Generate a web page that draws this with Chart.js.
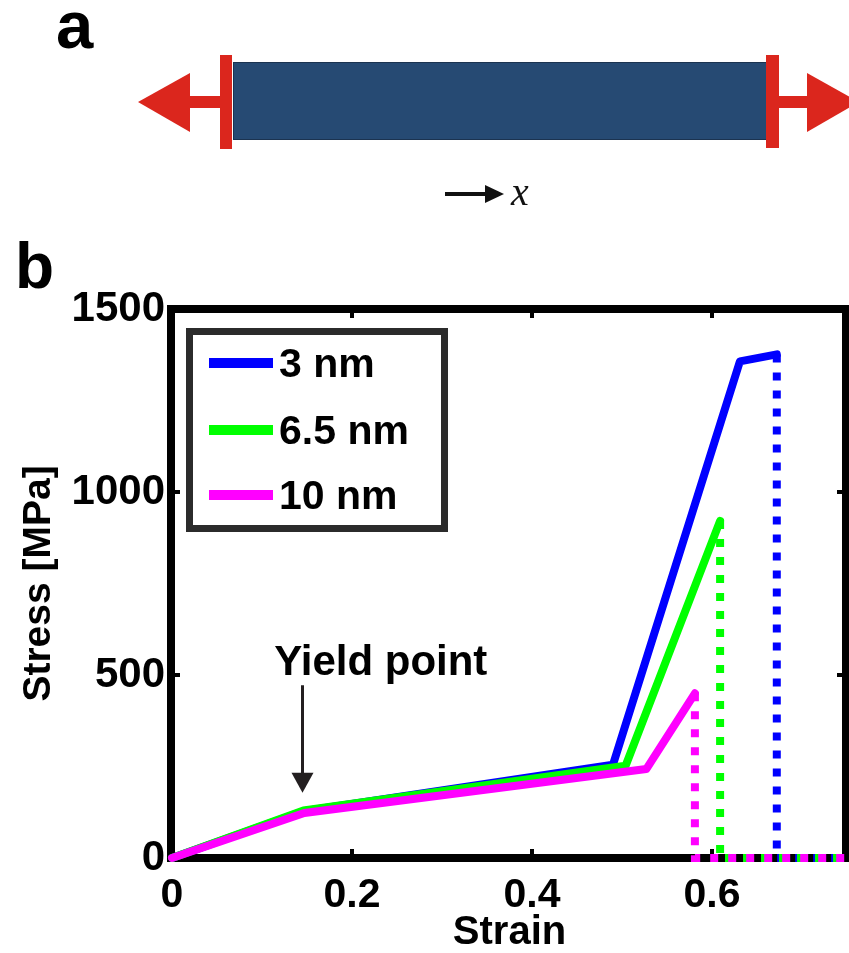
<!DOCTYPE html>
<html><head><meta charset="utf-8">
<script src="https://cdn.jsdelivr.net/npm/chart.js@4"></script>
<style>html,body{margin:0;padding:0;background:#fff;}canvas{display:block;}</style>
</head><body>
<canvas id="c" width="849" height="953"></canvas>
<script>
// ---- data ----
const seriesNames = ['3 nm', '6.5 nm', '10 nm'];
const seriesColors = ['#0000ff', '#00ff00', '#ff00ff'];
const strain3 = [0, 0.146, 0.490, 0.631, 0.672];
const stress3 = [0, 128, 255, 1357, 1376];
const strain65 = [0, 0.146, 0.504, 0.609];
const stress65 = [0, 130, 252, 921];
const strain10 = [0, 0.147, 0.527, 0.581];
const stress10 = [0, 123, 243, 450];
const failStrain3 = [0.672, 0.672, 0.75];
const failStress3 = [1376, 0, 0];
const failStrain65 = [0.609, 0.609, 0.75];
const failStress65 = [921, 0, 0];
const failStrain10 = [0.581, 0.581, 0.75];
const failStress10 = [450, 0, 0];
const xTicks = [0, 0.2, 0.4, 0.6];
const yTicks = [0, 500, 1000, 1500];
const xLabel = 'Strain';
const yLabel = 'Stress [MPa]';
const yieldLabel = 'Yield point';

const pts = (xs, ys) => xs.map((x, i) => ({x, y: ys[i]}));
const FONT = "'Liberation Sans', Arial, sans-serif";

function solid(i, xs, ys, order) {
  return {label: seriesNames[i], data: pts(xs, ys), borderColor: seriesColors[i], borderWidth: 8,
    borderCapStyle: 'round', borderJoinStyle: 'round', pointRadius: 0, fill: false, tension: 0, order, clip: false};
}
function dotted(i, xs, ys, order) {
  return {label: seriesNames[i] + ' failure', data: pts(xs, ys), borderColor: seriesColors[i], borderWidth: 8,
    borderDash: [8, 10], borderCapStyle: 'butt', pointRadius: 0, fill: false, tension: 0, order, clip: false};
}

const decor = {
  id: 'decor',
  beforeDraw(chart) {
    const ctx = chart.ctx;
    ctx.save();
    ctx.fillStyle = '#fff';
    ctx.fillRect(0, 0, chart.width, chart.height);
    // panel labels
    ctx.fillStyle = '#000';
    ctx.textBaseline = 'alphabetic';
    ctx.textAlign = 'left';
    ctx.font = 'bold 67px ' + FONT;
    ctx.fillText('a', 56, 48);
    ctx.font = 'bold 64px ' + FONT;
    ctx.fillText('b', 15, 288);
    // bar
    ctx.fillStyle = '#264a73';
    ctx.fillRect(233, 62, 535, 78);
    ctx.strokeStyle = '#1b3350';
    ctx.lineWidth = 1;
    ctx.strokeRect(233.5, 62.5, 534, 77);
    // red grips and arrows
    ctx.fillStyle = '#db261d';
    ctx.fillRect(220, 55, 12, 94);
    ctx.fillRect(766, 55, 13, 93);
    ctx.fillRect(190, 96, 30, 12);
    ctx.fillRect(779, 96, 28, 12);
    ctx.beginPath(); ctx.moveTo(138, 102); ctx.lineTo(190, 73); ctx.lineTo(190, 132); ctx.closePath(); ctx.fill();
    ctx.beginPath(); ctx.moveTo(859, 102); ctx.lineTo(807, 73); ctx.lineTo(807, 132); ctx.closePath(); ctx.fill();
    // x direction arrow
    ctx.fillStyle = '#111';
    ctx.fillRect(445, 192, 42, 4);
    ctx.beginPath(); ctx.moveTo(485, 185); ctx.lineTo(504, 194); ctx.lineTo(485, 203); ctx.closePath(); ctx.fill();
    ctx.font = "italic 40px 'Liberation Serif', 'Times New Roman', serif";
    ctx.fillText('x', 511, 205);
    ctx.restore();
  },
  beforeDatasetsDraw(chart) {
    const ctx = chart.ctx, a = chart.chartArea;
    const xs = chart.scales.x, ys = chart.scales.y;
    ctx.save();
    ctx.strokeStyle = '#000';
    ctx.lineWidth = 8;
    ctx.strokeRect(a.left - 1, a.top, a.right - a.left, a.bottom - a.top);
    ctx.lineWidth = 4;
    ctx.beginPath();
    xTicks.forEach(v => {
      if (v === 0) return;
      const px = xs.getPixelForValue(v);
      ctx.moveTo(px, a.bottom); ctx.lineTo(px, a.bottom - 9);
      ctx.moveTo(px, a.top); ctx.lineTo(px, a.top + 9);
    });
    yTicks.forEach(v => {
      if (v === 0 || v === 1500) return;
      const py = ys.getPixelForValue(v);
      ctx.moveTo(a.left - 1, py); ctx.lineTo(a.left + 8, py);
      ctx.moveTo(a.right - 1, py); ctx.lineTo(a.right - 10, py);
    });
    ctx.stroke();
    ctx.restore();
  },
  afterDatasetsDraw(chart) {
    const ctx = chart.ctx;
    const xs = chart.scales.x, ys = chart.scales.y;
    ctx.save();
    // legend
    ctx.fillStyle = '#fff';
    ctx.fillRect(190, 332, 255, 197);
    ctx.strokeStyle = '#2b2b2b';
    ctx.lineWidth = 7;
    ctx.strokeRect(189.5, 331.5, 255, 197);
    const rows = [363, 430, 495];
    seriesNames.forEach((n, i) => {
      ctx.fillStyle = seriesColors[i];
      ctx.fillRect(209, rows[i] - 5, 64, 10);
      ctx.fillStyle = '#000';
      ctx.font = 'bold 41px ' + FONT;
      ctx.textBaseline = 'middle';
      ctx.textAlign = 'left';
      ctx.fillText(n, 279, rows[i] + 3);
    });
    // yield point annotation
    const ax = xs.getPixelForValue(0.145);
    const yTop = ys.getPixelForValue(472);
    const yTip = ys.getPixelForValue(178);
    ctx.strokeStyle = '#231f20';
    ctx.fillStyle = '#231f20';
    ctx.lineWidth = 3;
    ctx.beginPath(); ctx.moveTo(ax, yTop); ctx.lineTo(ax, yTip - 18); ctx.stroke();
    ctx.beginPath(); ctx.moveTo(ax - 11, yTip - 20); ctx.lineTo(ax + 11, yTip - 20); ctx.lineTo(ax, yTip); ctx.closePath(); ctx.fill();
    ctx.fillStyle = '#000';
    ctx.font = 'bold 42px ' + FONT;
    ctx.textAlign = 'center';
    ctx.textBaseline = 'alphabetic';
    ctx.fillText(yieldLabel, xs.getPixelForValue(0.232), ys.getPixelForValue(500));
    ctx.restore();
  }
};

new Chart(document.getElementById('c'), {
  type: 'line',
  data: {
    datasets: [
      solid(0, strain3, stress3, 3),
      solid(1, strain65, stress65, 2),
      solid(2, strain10, stress10, 1),
      dotted(0, failStrain3, failStress3, 6),
      dotted(1, failStrain65, failStress65, 5),
      dotted(2, failStrain10, failStress10, 4)
    ]
  },
  options: {
    responsive: false, animation: false, devicePixelRatio: 1,
    layout: {padding: {top: 309, right: 2, left: 0, bottom: 0}},
    plugins: {legend: {display: false}, tooltip: {enabled: false}},
    scales: {
      x: {
        type: 'linear', min: 0, max: 0.75,
        afterFit: s => { s.height = 95; },
        afterBuildTicks: s => { s.ticks = xTicks.map(v => ({value: v})); },
        grid: {display: false, drawTicks: false}, border: {display: false},
        ticks: {color: '#000', font: {family: FONT, size: 41, weight: 'bold'}, padding: 13, maxRotation: 0, autoSkip: false, callback: v => String(v)},
        title: {display: true, text: xLabel, color: '#000', font: {family: FONT, size: 40, weight: 'bold', lineHeight: 1}, padding: 0}
      },
      y: {
        type: 'linear', min: 0, max: 1500,
        afterFit: s => { s.width = 172; },
        afterBuildTicks: s => { s.ticks = yTicks.map(v => ({value: v})); },
        grid: {display: false, drawTicks: false}, border: {display: false},
        ticks: {color: '#000', font: {family: FONT, size: 42, weight: 'bold'}, padding: 7, callback: v => String(v)},
        title: {display: true, text: yLabel, color: '#000', font: {family: FONT, size: 39, weight: 'bold', lineHeight: 1}, padding: {top: 20, bottom: 0}}
      }
    }
  },
  plugins: [decor]
});
</script>
</body></html>
